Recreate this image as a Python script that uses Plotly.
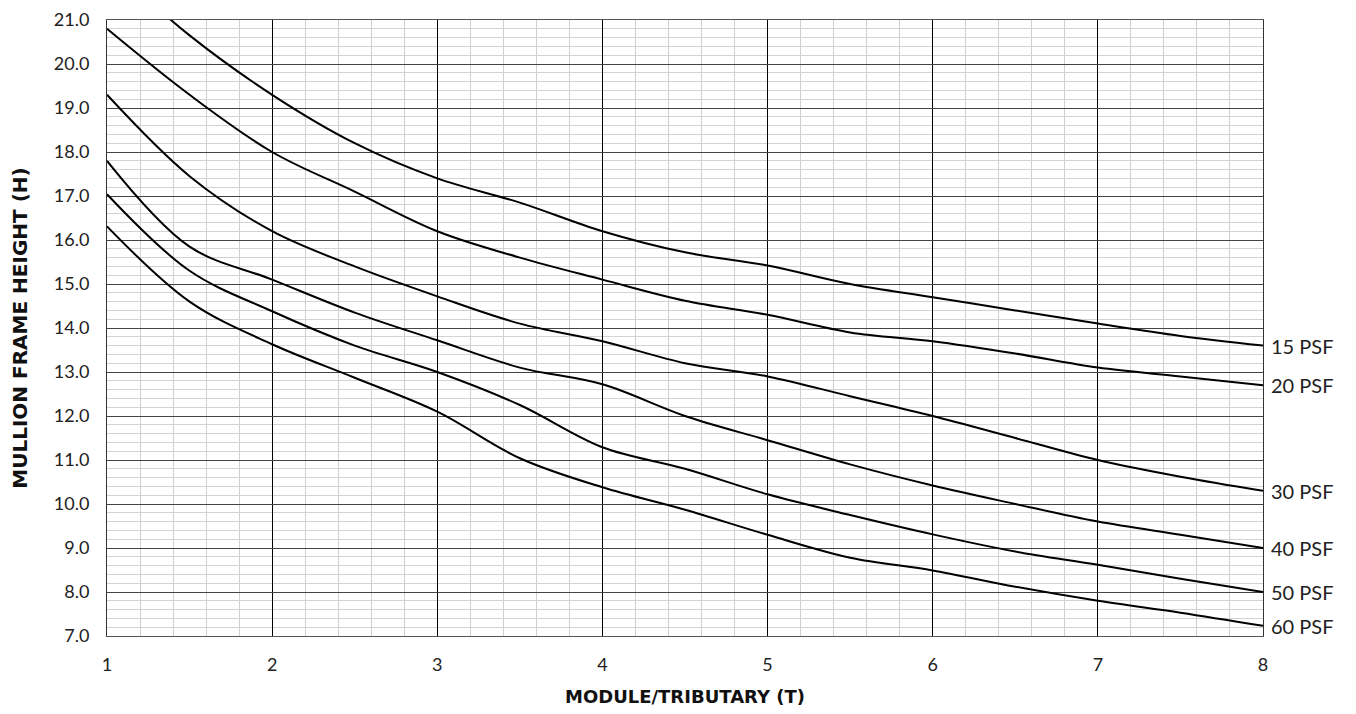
import plotly.graph_objects as go

x_vals = [1, 1.5, 2, 2.5, 3, 3.5, 4, 4.5, 5, 5.5, 6, 6.5, 7, 7.5, 8]
psf15 = [22.3, 20.65, 19.3, 18.2, 17.4, 16.85, 16.2, 15.72, 15.42, 15.0, 14.7, 14.4, 14.1, 13.82, 13.6]
psf20 = [20.8, 19.3, 18.0, 17.1, 16.2, 15.6, 15.1, 14.62, 14.3, 13.9, 13.7, 13.42, 13.1, 12.9, 12.7]
psf30 = [19.3, 17.45, 16.2, 15.4, 14.72, 14.1, 13.7, 13.2, 12.9, 12.45, 12.0, 11.5, 11.0, 10.62, 10.3]
psf40 = [17.8, 15.85, 15.1, 14.35, 13.72, 13.1, 12.72, 12.0, 11.45, 10.9, 10.42, 10.0, 9.6, 9.3, 9.0]
psf50 = [17.04, 15.3, 14.38, 13.6, 13.0, 12.25, 11.29, 10.8, 10.22, 9.75, 9.31, 8.92, 8.62, 8.3, 8.0]
psf60 = [16.31, 14.6, 13.63, 12.87, 12.1, 11.04, 10.38, 9.87, 9.3, 8.78, 8.49, 8.12, 7.8, 7.53, 7.23]
series_labels = ["15 PSF", "20 PSF", "30 PSF", "40 PSF", "50 PSF", "60 PSF"]
series = [psf15, psf20, psf30, psf40, psf50, psf60]

x_ticks = [1, 2, 3, 4, 5, 6, 7, 8]
y_ticks = [7, 8, 9, 10, 11, 12, 13, 14, 15, 16, 17, 18, 19, 20, 21]
y_ticktext = [f"{v:.1f}" for v in y_ticks]

FONT = "Lato"
TITLE_FONT = "DejaVu Sans"

fig = go.Figure()
for name, ys in zip(series_labels, series):
    fig.add_trace(go.Scatter(
        x=x_vals, y=ys, mode="lines", name=name,
        line=dict(color="black", width=2, shape="spline", smoothing=1.0),
        showlegend=False, hoverinfo="skip",
    ))
    fig.add_annotation(
        x=x_vals[-1], y=ys[-1], text=name, showarrow=False,
        xanchor="left", yanchor="middle", xshift=6,
        font=dict(family=FONT, size=20, color="#222"),
    )

fig.update_layout(
    width=1356, height=714,
    margin=dict(l=99, r=101, t=12, b=86),
    plot_bgcolor="white", paper_bgcolor="white",
    font=dict(family=FONT, size=18, color="#222"),
)
fig.update_xaxes(
    range=[1, 8], tickvals=x_ticks, ticktext=[str(v) for v in x_ticks],
    showgrid=True, gridcolor="black", gridwidth=1,
    minor=dict(dtick=0.2, tick0=1, showgrid=True, gridcolor="#cfcfcf", gridwidth=1),
    showline=True, linecolor="#555", linewidth=1, mirror=True,
    ticks="outside", ticklen=12, tickcolor="rgba(0,0,0,0)",
    zeroline=False, automargin=False, ticklabeloverflow="allow",
    title=dict(text="<b>MODULE/TRIBUTARY (T)</b>", font=dict(family=TITLE_FONT, size=18, color="#111"), standoff=16),
)
fig.update_yaxes(
    range=[7, 21], tickvals=y_ticks, ticktext=y_ticktext,
    showgrid=True, gridcolor="#444", gridwidth=1,
    minor=dict(dtick=0.2, tick0=7, showgrid=True, gridcolor="#d3d3d3", gridwidth=1),
    showline=True, linecolor="#333", linewidth=1, mirror=True,
    ticks="outside", ticklen=13, tickcolor="rgba(0,0,0,0)",
    zeroline=False, automargin=False, ticklabeloverflow="allow",
    title=dict(text="<b>MULLION FRAME HEIGHT (H)</b>", font=dict(family=TITLE_FONT, size=20, color="#111"), standoff=27),
)

fig.write_html("out.html")
